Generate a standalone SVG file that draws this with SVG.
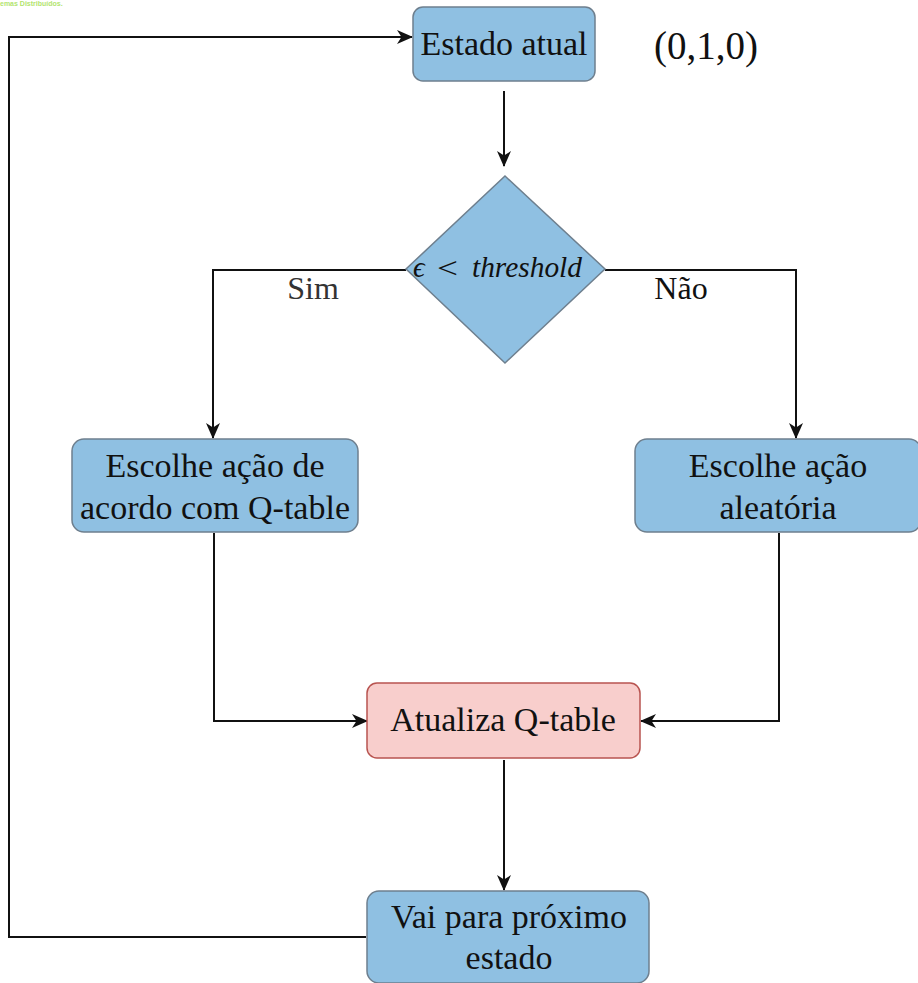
<svg xmlns="http://www.w3.org/2000/svg" width="918" height="983" viewBox="0 0 918 983">
  <style>
    .box { fill: #8fc0e2; stroke: #6e7f8e; stroke-width: 1.5; }
    .upd { fill: #f8cecc; stroke: #b85450; stroke-width: 1.5; }
    .lbl { font-family: "Liberation Serif", "Times New Roman", serif; font-size: 34px; fill: #111; text-anchor: middle; }
    .edge { fill: none; stroke: #111; stroke-width: 2; }
    .elbl { font-family: "Liberation Serif", "Times New Roman", serif; font-size: 32px; text-anchor: middle; }
    .math { font-family: "Liberation Serif", "Times New Roman", serif; font-size: 29px; fill: #111; }
  </style>
  <defs>
    <marker id="arrow" markerUnits="userSpaceOnUse" markerWidth="16" markerHeight="14" refX="15" refY="7" orient="auto">
      <path d="M0,0 L16,7 L0,14 L4.5,7 Z" fill="#111"/>
    </marker>
  </defs>
  <rect width="918" height="983" fill="#ffffff"/>

  <text x="0" y="6" font-family="'Liberation Sans', Arial, sans-serif" font-size="7" font-weight="bold" fill="#b2e46e">emas Distribuídos.</text>

  <g id="connectors">
    <path class="edge" d="M504,91 L504,166" marker-end="url(#arrow)"/>
    <path class="edge" d="M406,270 L213,270 L213,438" marker-end="url(#arrow)"/>
    <path class="edge" d="M605,270 L796,270 L796,438" marker-end="url(#arrow)"/>
    <path class="edge" d="M214,533 L214,721 L367,721" marker-end="url(#arrow)"/>
    <path class="edge" d="M779,533 L779,721 L641,721" marker-end="url(#arrow)"/>
    <path class="edge" d="M504,760 L504,890" marker-end="url(#arrow)"/>
    <path class="edge" d="M366,937 L9,937 L9,37 L412,37" marker-end="url(#arrow)"/>
    <text class="elbl" x="313" y="299" fill="#333333">Sim</text>
    <text class="elbl" x="681" y="299" fill="#111">Não</text>
  </g>

  <g id="estado-atual">
    <rect class="box" x="413" y="7" width="182" height="74" rx="10"/>
    <text class="lbl" x="504" y="55">Estado atual</text>
  </g>

  <g id="estado-valor">
    <text x="706" y="59" font-family="'Liberation Serif', 'Times New Roman', serif" font-size="39" fill="#111" text-anchor="middle">(0,1,0)</text>
  </g>

  <g id="decisao">
    <polygon class="box" points="505,176 605,269 505,363 406,269"/>
    <text class="math" x="413" y="277" font-style="italic">ϵ</text>
    <text class="math" x="437" y="278" font-size="32" textLength="21" lengthAdjust="spacingAndGlyphs">&lt;</text>
    <text class="math" x="472" y="277" font-style="italic" textLength="110" lengthAdjust="spacingAndGlyphs">threshold</text>
  </g>

  <g id="acao-qtable">
    <rect class="box" x="72" y="439" width="286" height="93" rx="12"/>
    <text class="lbl" x="215" y="477">Escolhe ação de</text>
    <text class="lbl" x="215" y="519">acordo com Q-table</text>
  </g>

  <g id="acao-aleatoria">
    <rect class="box" x="635" y="439" width="286" height="93" rx="12"/>
    <text class="lbl" x="778" y="477">Escolhe ação</text>
    <text class="lbl" x="778" y="519">aleatória</text>
  </g>

  <g id="atualiza-qtable">
    <rect class="upd" x="367" y="683" width="273" height="75" rx="10"/>
    <text class="lbl" x="503" y="731">Atualiza Q-table</text>
  </g>

  <g id="proximo-estado">
    <rect class="box" x="367" y="891" width="282" height="92" rx="12"/>
    <text class="lbl" x="509" y="928">Vai para próximo</text>
    <text class="lbl" x="509" y="969">estado</text>
  </g>
</svg>
